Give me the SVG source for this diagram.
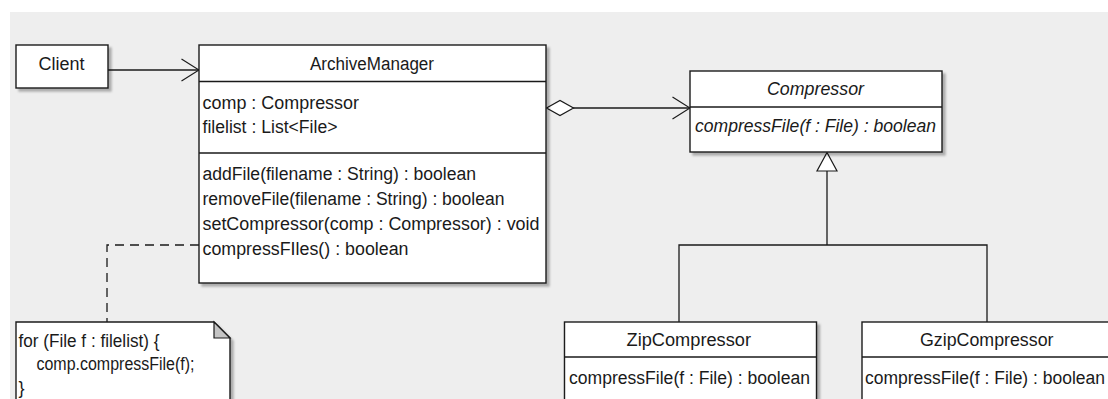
<svg xmlns="http://www.w3.org/2000/svg" width="1108" height="399" viewBox="0 0 1108 399">
  <defs>
    <filter id="shadow" x="-10%" y="-10%" width="130%" height="130%">
      <feDropShadow dx="3" dy="3" stdDeviation="1.2" flood-color="#000" flood-opacity="0.28"/>
    </filter>
    <marker id="open-arrow" viewBox="0 0 20 24" refX="19" refY="12" markerWidth="20" markerHeight="24" markerUnits="userSpaceOnUse" orient="auto">
      <path d="M1.5,1 L19,12 L1.5,23" fill="none" stroke="#1a1a1a" stroke-width="1.2"/>
    </marker>
  </defs>
  <style>
    .box { fill: #ffffff; stroke: #1a1a1a; stroke-width: 1.4; }
    .div { stroke: #1a1a1a; stroke-width: 1.3; fill: none; }
    .line { stroke: #1a1a1a; stroke-width: 1.3; fill: none; }
    .dash { stroke: #1a1a1a; stroke-width: 1.3; fill: none; stroke-dasharray: 9 6; }
    text { font-family: "Liberation Sans", Arial, sans-serif; font-size: 18px; fill: #1a1a1a; }
    .it { font-style: italic; }
  </style>

  <!-- canvas -->
  <rect x="0" y="0" width="1108" height="399" fill="#ffffff"/>
  <rect x="10" y="12" width="1098" height="387" fill="#eeeeee"/>

  <!-- connectors -->
  <g id="connectors">
    <!-- Client uses ArchiveManager -->
    <line class="line" x1="108" y1="70" x2="199" y2="70" marker-end="url(#open-arrow)"/>
    <!-- aggregation ArchiveManager -> Compressor -->
    <line class="line" x1="573" y1="108" x2="690" y2="108" marker-end="url(#open-arrow)"/>
    <polygon points="546.5,108 560,100.5 573.5,108 560,115.5" fill="#ffffff" stroke="#1a1a1a" stroke-width="1.2"/>
    <!-- generalization tree -->
    <polyline class="line" points="679,322 679,245 987,245 987,322"/>
    <line class="line" x1="827" y1="245" x2="827" y2="171"/>
    <polygon points="827,152.5 837,171 817,171" fill="#ffffff" stroke="#1a1a1a" stroke-width="1.2"/>
    <!-- note anchor -->
    <polyline class="dash" points="199,245 107,245 107,322"/>
  </g>

  <!-- Client -->
  <g id="client">
    <rect class="box" x="16" y="45" width="92" height="43" filter="url(#shadow)"/>
    <text x="38.5" y="69.5" textLength="46" lengthAdjust="spacingAndGlyphs">Client</text>
  </g>

  <!-- ArchiveManager -->
  <g id="archive-manager">
    <rect class="box" x="199" y="45" width="347" height="238" filter="url(#shadow)"/>
    <line class="div" x1="199" y1="81.5" x2="546" y2="81.5"/>
    <line class="div" x1="199" y1="153" x2="546" y2="153"/>
    <text x="310" y="70" textLength="124" lengthAdjust="spacingAndGlyphs">ArchiveManager</text>
    <text x="202.5" y="108.5" textLength="156.5" lengthAdjust="spacingAndGlyphs">comp : Compressor</text>
    <text x="202.5" y="133" textLength="135" lengthAdjust="spacingAndGlyphs">filelist : List&lt;File&gt;</text>
    <text x="202.5" y="179.5" textLength="273.5" lengthAdjust="spacingAndGlyphs">addFile(filename : String) : boolean</text>
    <text x="202.5" y="204.5" textLength="302" lengthAdjust="spacingAndGlyphs">removeFile(filename : String) : boolean</text>
    <text x="202.5" y="229.5" textLength="337" lengthAdjust="spacingAndGlyphs">setCompressor(comp : Compressor) : void</text>
    <text x="202.5" y="254.5" textLength="206" lengthAdjust="spacingAndGlyphs">compressFIles() : boolean</text>
  </g>

  <!-- Compressor (abstract) -->
  <g id="compressor">
    <rect class="box" x="690" y="71" width="252" height="81" filter="url(#shadow)"/>
    <line class="div" x1="690" y1="107" x2="942" y2="107"/>
    <text class="it" x="767" y="94.5" textLength="97" lengthAdjust="spacingAndGlyphs">Compressor</text>
    <text class="it" x="695" y="132" textLength="241" lengthAdjust="spacingAndGlyphs">compressFile(f : File) : boolean</text>
  </g>

  <!-- ZipCompressor -->
  <g id="zip-compressor">
    <rect class="box" x="564.5" y="322" width="252" height="100" filter="url(#shadow)"/>
    <line class="div" x1="564.5" y1="357" x2="816.5" y2="357"/>
    <text x="626.5" y="346" textLength="124.5" lengthAdjust="spacingAndGlyphs">ZipCompressor</text>
    <text x="569" y="383.5" textLength="241" lengthAdjust="spacingAndGlyphs">compressFile(f : File) : boolean</text>
  </g>

  <!-- GzipCompressor -->
  <g id="gzip-compressor">
    <rect class="box" x="862" y="322" width="252" height="100" filter="url(#shadow)"/>
    <line class="div" x1="862" y1="357" x2="1114" y2="357"/>
    <text x="920" y="345.5" textLength="133.5" lengthAdjust="spacingAndGlyphs">GzipCompressor</text>
    <text x="865" y="383.5" textLength="240" lengthAdjust="spacingAndGlyphs">compressFile(f : File) : boolean</text>
  </g>

  <!-- note attached to compressFIles() -->
  <g id="note">
    <path class="box" d="M16,322 L214,322 L230,338 L230,425 L16,425 Z" filter="url(#shadow)"/>
    <path d="M214,322 L214,338 L230,338 Z" fill="#c4c4c4" stroke="#1a1a1a" stroke-width="1.2"/>
    <text x="18.5" y="346.5" textLength="141" lengthAdjust="spacingAndGlyphs">for (File f : filelist) {</text>
    <text x="36.5" y="370" textLength="158" lengthAdjust="spacingAndGlyphs">comp.compressFile(f);</text>
    <text x="18.5" y="394">}</text>
  </g>
</svg>
